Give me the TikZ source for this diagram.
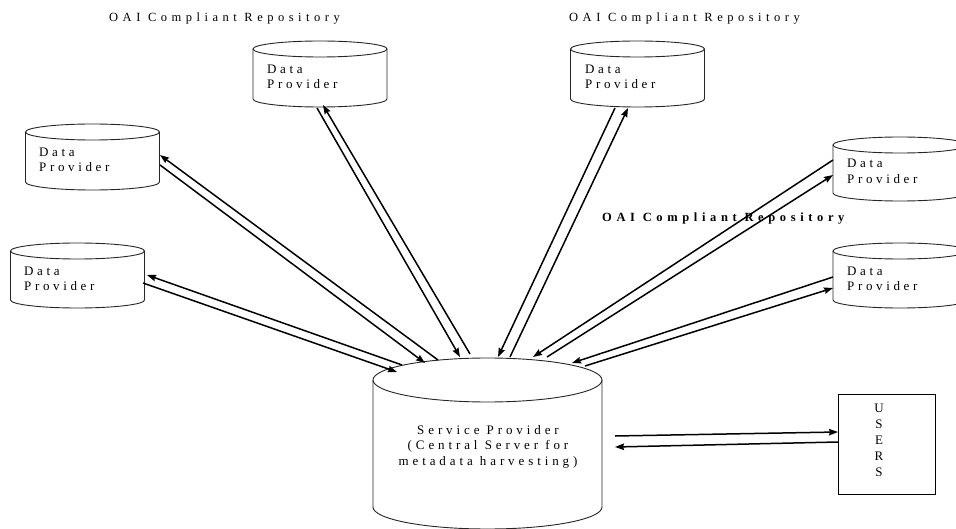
\documentclass[tikz,border=0pt]{standalone}
\usepackage{fontspec}
\setmainfont{Liberation Serif}
\usetikzlibrary{arrows.meta}
\newcommand\dbcyl[5]{% cx, yt, yb, rx, ry
  \draw[cylline] (#1,#2) ellipse [x radius=#4pt, y radius=#5pt];
  \draw[cylline] (#1-#4,#2) -- (#1-#4,#3) arc [start angle=180, end angle=360, x radius=#4pt, y radius=#5pt] -- (#1+#4,#2);
}
\tikzset{
  cylline/.style={line width=0.9pt, draw=black!85},
  lbl/.style={anchor=base west, inner sep=0pt, font=\fontsize{13}{15}\selectfont\addfontfeature{LetterSpace=28}},
  oai/.style={anchor=base west, inner sep=0pt, font=\fontsize{12.5}{15}\selectfont\addfontfeature{LetterSpace=36}},
  oaib/.style={anchor=base west, inner sep=0pt, font=\fontsize{12.5}{15}\selectfont\bfseries\addfontfeature{LetterSpace=37}},
  link/.style={line width=1.5pt, -{Stealth[length=9pt,width=6.5pt,inset=1pt]}},
}
\begin{document}
\begin{tikzpicture}[x=1pt,y=-1pt]
\useasboundingbox (0,0) rectangle (956,529);
% cylinders
\dbcyl{320}{49}{99}{67}{8}
\dbcyl{92.5}{132}{182}{67}{8}
\dbcyl{77.5}{251}{300}{67}{8}
\dbcyl{637.5}{49}{99}{67}{8}
\dbcyl{900}{145}{193}{67}{8}
\dbcyl{900}{251}{300}{67}{8}
\dbcyl{487.5}{380}{507}{114.5}{22}
% texts
\node[lbl] (dp1a) at (267,73.5) {Data};
\node[lbl] (dp1b) at (267,88.5) {Provider};
\node[lbl] (dp2a) at (39,157) {Data};
\node[lbl] (dp2b) at (39,172) {Provider};
\node[lbl] (dp3a) at (24,276) {Data};
\node[lbl] (dp3b) at (24,291) {Provider};
\node[lbl] (dp4a) at (585,73.5) {Data};
\node[lbl] (dp4b) at (585,88.5) {Provider};
\node[lbl] (dp5a) at (847,168) {Data};
\node[lbl] (dp5b) at (847,184) {Provider};
\node[lbl] (dp6a) at (847,276) {Data};
\node[lbl] (dp6b) at (847,291) {Provider};
\node[oai] (oai1) at (109,22) {OAI Compliant Repository};
\node[oai] (oai2) at (569,22) {OAI Compliant Repository};
\node[oaib] (oai3) at (602,222) {OAI Compliant Repository};
\node[anchor=base, inner sep=0pt, align=center, font=\fontsize{13}{15.5}\selectfont\addfontfeature{LetterSpace=30}] (sp) at (488,465)
  {Service Provider\\(Central Server for\\metadata harvesting)};
\node[draw, line width=0.9pt, minimum width=97pt, minimum height=100pt, anchor=north west] (users) at (838,394) {};
\node[anchor=base, inner sep=0pt, align=center, font=\fontsize{13}{16}\selectfont] (userst) at (879,476.5) {U\\S\\E\\R\\S};
% connector end points
\coordinate (s1a) at (470,354); \coordinate (d1a) at (323,105);
\coordinate (d1b) at (317,108); \coordinate (s1b) at (460,357);
\coordinate (s2a) at (438,360); \coordinate (d2a) at (160,155);
\coordinate (d2b) at (160,165); \coordinate (s2b) at (425,363);
\coordinate (s3a) at (402,365); \coordinate (d3a) at (147,275);
\coordinate (d3b) at (143,283); \coordinate (s3b) at (397,372);
\coordinate (d4b) at (615,108); \coordinate (s4b) at (498,357);
\coordinate (s4a) at (510,357); \coordinate (d4a) at (628,108);
\coordinate (d5b) at (833,160); \coordinate (s5b) at (533,357);
\coordinate (s5a) at (547,357); \coordinate (d5a) at (833,175);
\coordinate (d6b) at (833,277); \coordinate (s6b) at (572,363);
\coordinate (s6a) at (585,366); \coordinate (d6a) at (833,288);
\coordinate (u1s) at (615,436); \coordinate (u1e) at (838,432);
\coordinate (u2s) at (838,442); \coordinate (u2e) at (615,447);
% connectors
\draw[link] (s1a) -- (d1a);
\draw[link] (d1b) -- (s1b);
\draw[link] (s2a) -- (d2a);
\draw[link] (d2b) -- (s2b);
\draw[link] (s3a) -- (d3a);
\draw[link] (d3b) -- (s3b);
\draw[link] (d4b) -- (s4b);
\draw[link] (s4a) -- (d4a);
\draw[link] (d5b) -- (s5b);
\draw[link] (s5a) -- (d5a);
\draw[link] (d6b) -- (s6b);
\draw[link] (s6a) -- (d6a);
\draw[link] (u1s) -- (u1e);
\draw[link] (u2s) -- (u2e);
\end{tikzpicture}
\end{document}
